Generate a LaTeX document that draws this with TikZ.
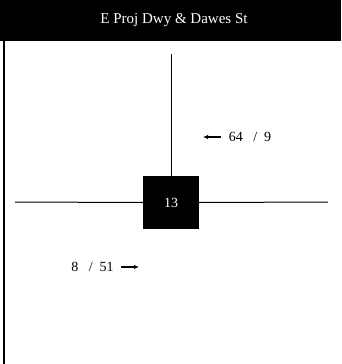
\documentclass[tikz,border=0pt]{standalone}
\usepackage{fontspec}
\setmainfont{Liberation Serif}
\usetikzlibrary{arrows.meta}
\begin{document}
\begin{tikzpicture}[x=1pt,y=-1pt,
  road/.style={draw=black,line width=1pt},
  lbl/.style={font=\fontsize{14}{16}\selectfont,inner sep=0pt,anchor=center},
  arr/.style={-{Latex[length=5pt,width=4.5pt]},line width=1.6pt}]
\useasboundingbox (0,0) rectangle (341,364);
\fill[black] (0,0) rectangle (341,41);
\fill[black] (3,41) rectangle (5,364);
\node[text=white,font=\fontsize{15}{17}\selectfont,inner sep=0pt] (title) at (174,20) {E Proj Dwy \& Dawes St};
\coordinate (W) at (15,202);
\coordinate (E) at (328,202);
\coordinate (N) at (171.5,54);
\node[fill=black,minimum width=56pt,minimum height=53pt,inner sep=0pt,text=white,font=\fontsize{14}{16}\selectfont] (sig) at (171,202.5) {13};
\draw[road] (W) -- (sig.west);
\draw[road] (sig.east) -- (E);
\draw[road] (N) -- (sig.north -| N);
\node[lbl] (nb) at (250,137) {64 \enspace/\enspace 9};
\coordinate (nbA) at (221,137);
\coordinate (nbB) at (203,137);
\draw[arr] (nbA) -- (nbB);
\node[lbl] (sb) at (92.5,267) {8 \enspace/\enspace 51};
\coordinate (sbA) at (121,267);
\coordinate (sbB) at (139,267);
\draw[arr] (sbA) -- (sbB);
\end{tikzpicture}
\end{document}
